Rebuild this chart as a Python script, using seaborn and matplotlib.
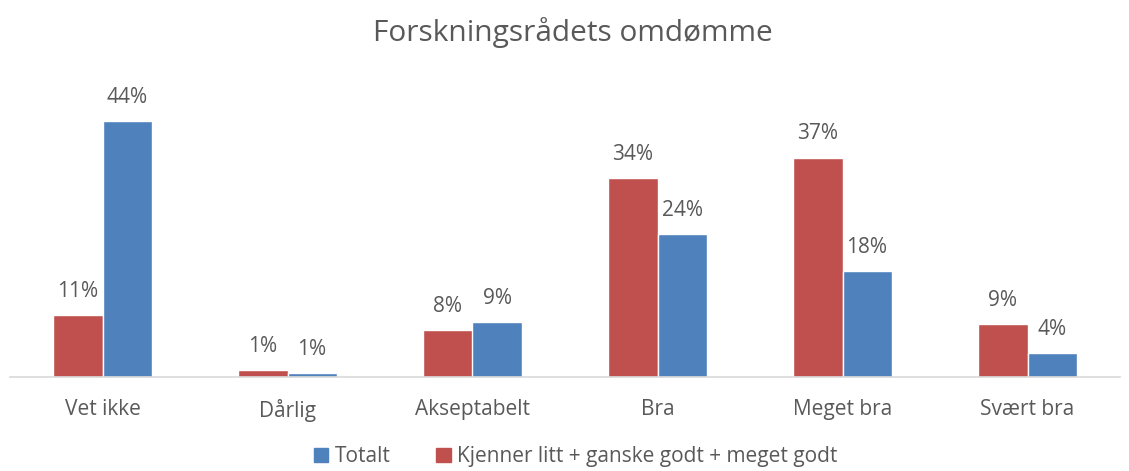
import matplotlib
matplotlib.use("Agg")
import matplotlib.pyplot as plt
import seaborn as sns
import pandas as pd
from matplotlib.patches import Patch

# Data
categories = ["Vet ikke", "Dårlig", "Akseptabelt", "Bra", "Meget bra", "Svært bra"]
kjenner = [10.7, 1.2, 8.1, 34.2, 37.7, 9.1]
totalt = [44.0, 0.7, 9.4, 24.5, 18.2, 4.1]
kjenner_labels = ["11%", "1%", "8%", "34%", "37%", "9%"]
totalt_labels = ["44%", "1%", "9%", "24%", "18%", "4%"]
series_names = ["Kjenner litt + ganske godt + meget godt", "Totalt"]
colors = ["#C0504D", "#4F81BD"]

df = pd.DataFrame({
    "Kategori": categories * 2,
    "Andel": kjenner + totalt,
    "Gruppe": [series_names[0]] * len(categories) + [series_names[1]] * len(categories),
})

sns.set_style("white")
plt.rcParams["font.family"] = ["Open Sans", "DejaVu Sans"]
text_color = "#595959"

fig = plt.figure(figsize=(11.29, 4.71), dpi=100)
ax = fig.add_axes([10 / 1129, 94 / 471, 1110 / 1129, 0.618])

sns.barplot(data=df, x="Kategori", y="Andel", hue="Gruppe", hue_order=series_names,
            palette=colors, width=0.53, saturation=1, ax=ax, legend=False)

for cont, labs in zip(ax.containers, [kjenner_labels, totalt_labels]):
    ax.bar_label(cont, labels=labs, padding=9.5, fontsize=15, color=text_color)

ax.set_ylim(0, 50)
ax.set_xlim(-0.5, len(categories) - 0.5)
ax.set_xlabel("")
ax.set_ylabel("")
ax.set_yticks([])
for s in ["top", "right", "left"]:
    ax.spines[s].set_visible(False)
ax.spines["bottom"].set_color("#D9D9D9")
ax.spines["bottom"].set_linewidth(1.2)
ax.tick_params(axis="x", length=0, pad=16, labelsize=15, labelcolor=text_color)

fig.suptitle("Forskningsrådets omdømme", x=0.507, y=0.963, fontsize=21.5, color=text_color)

handles = [Patch(color=colors[1]), Patch(color=colors[0])]
fig.legend(handles, [series_names[1], series_names[0]], loc="center", bbox_to_anchor=(0.51, 0.03),
           ncol=2, frameon=False, fontsize=15, labelcolor=text_color,
           handlelength=0.7, handleheight=0.7, handletextpad=0.3, columnspacing=2.2)

fig.savefig("out.png", dpi=100)
